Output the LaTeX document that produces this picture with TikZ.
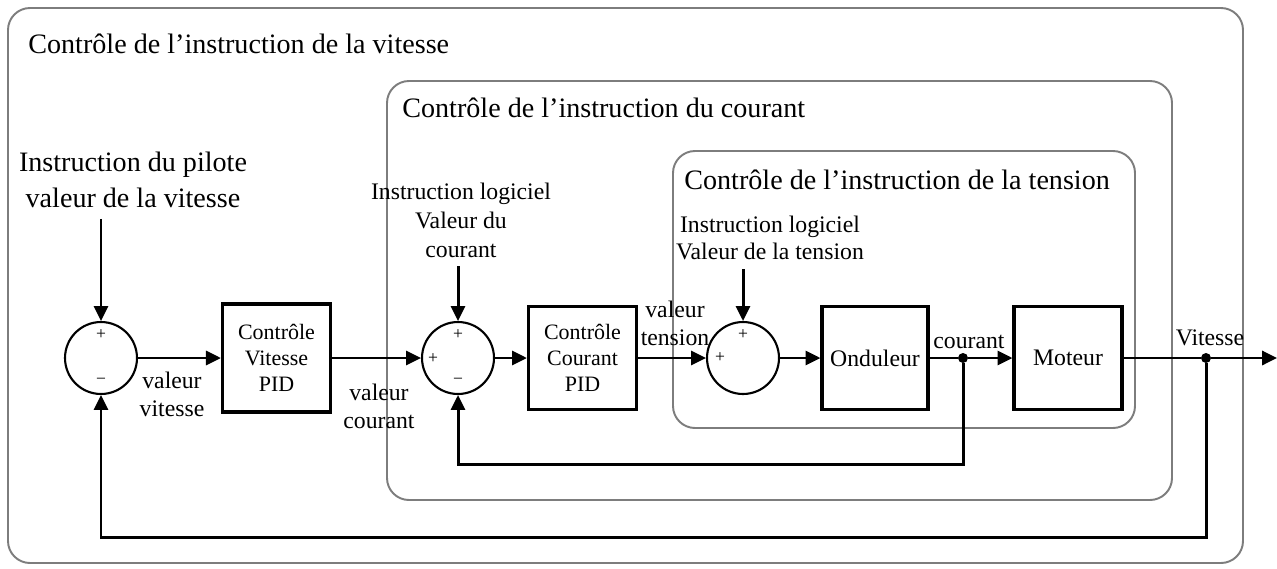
\documentclass[tikz,border=0pt]{standalone}
\usepackage{fontspec}
\setmainfont{Liberation Serif}
\usetikzlibrary{arrows.meta, positioning, calc}
\definecolor{cadre}{RGB}{125,125,125}

\begin{document}
\begin{tikzpicture}[x=0.02cm, y=-0.02cm,
  fl/.style={line width=1.7pt, -{Triangle[length=8.5pt,width=8pt]}},
  trait/.style={line width=1.7pt},
  somme/.style={draw, circle, line width=1.2pt, minimum size=1.44cm, inner sep=0pt},
  bloc/.style={draw, line width=1.8pt, minimum width=2.16cm, minimum height=2.06cm,
    align=center, inner sep=0pt, font=\fontsize{12.5}{15}\selectfont},
  groupe/.style={draw=cadre, line width=1.1pt, rounded corners=0.44cm},
  signe/.style={font=\fontsize{10}{10}\selectfont, inner sep=0pt},
  jonction/.style={circle, fill=black, minimum size=0.2cm, inner sep=0pt},
  titre/.style={anchor=west, font=\fontsize{16}{19}\selectfont, inner sep=0pt},
  lbl/.style={align=center, font=\fontsize{13.5}{16}\selectfont, inner sep=0pt}]
  \useasboundingbox (0,0) rectangle (1277,568);

  % cadres des boucles
  \draw[groupe] (8,8) rectangle (1243,563);
  \draw[groupe] (387,81) rectangle (1172,500);
  \draw[groupe] (673,151) rectangle (1135,428);
  \node[titre] (tvit) at (28,44) {Contrôle de l’instruction de la vitesse};
  \node[titre] (tcou) at (402,108) {Contrôle de l’instruction du courant};
  \node[titre] (tten) at (684,180) {Contrôle de l’instruction de la tension};

  % chaine directe
  \node[somme] (s1) at (101,358) {};
  \node[bloc, minimum height=2.16cm] (pidv) at (276.5,358) {Contrôle\\Vitesse\\PID};
  \node[somme] (s2) at (458,358) {};
  \node[bloc] (pidc) at (582.5,358) {Contrôle\\Courant\\PID};
  \node[somme] (s3) at (743,358) {};
  \node[bloc, minimum width=2.12cm, font=\fontsize{13.5}{16}\selectfont] (ond) at (875,358) {Onduleur};
  \node[jonction] (jc) at (963,358) {};
  \node[bloc, font=\fontsize{13.5}{16}\selectfont] (mot) at (1068,358) {Moteur};
  \node[jonction] (jv) at (1206,358) {};
  \coordinate (sortie) at (1277,358);

  % signes
  \node[signe] (s1p) at ($(s1)+(0,-23)$) {+};
  \node[signe] (s1m) at ($(s1)+(0,23)$) {−};
  \node[signe] (s2p) at ($(s2)+(0,-23)$) {+};
  \node[signe] (s2g) at ($(s2)+(-25,1)$) {+};
  \node[signe] (s2m) at ($(s2)+(0,23)$) {−};
  \node[signe] (s3p) at ($(s3)+(0,-23)$) {+};
  \node[signe] (s3g) at ($(s3)+(-23,0)$) {+};

  % consignes
  \node[lbl, font=\fontsize{16}{20.5}\selectfont, inner ysep=6pt] (pilote) at (133,180)
    {Instruction du pilote\\valeur de la vitesse};
  \node[lbl, font=\fontsize{13.5}{16.5}\selectfont, inner ysep=5pt] (logc) at (461,220)
    {Instruction logiciel\\Valeur du\\courant};
  \node[lbl, font=\fontsize{13.5}{15.5}\selectfont, inner ysep=5pt] (logt) at (770,238)
    {Instruction logiciel\\Valeur de la tension};

  % etiquettes des signaux
  \node[lbl] (valvit) at (172,394) {valeur\\vitesse};
  \node[lbl] (valcou) at (379,406) {valeur\\courant};
  \node[lbl] (valten) at (675,323) {valeur\\tension};
  \node[lbl] (lcou) at (969,342) {courant};
  \node[lbl] (lvit) at (1210,338) {Vitesse};

  % liaisons
  \draw[fl] (s1 |- pilote.south) -- (s1.north);
  \draw[fl] (s2 |- logc.south) -- (s2.north);
  \draw[fl] (s3 |- logt.south) -- (s3.north);
  \draw[fl] (s1) -- (pidv);
  \draw[fl] (pidv) -- (s2);
  \draw[fl] (s2) -- (pidc);
  \draw[fl] (pidc) -- (s3);
  \draw[fl] (s3) -- (ond);
  \draw[trait] (ond) -- (jc);
  \draw[fl] (jc) -- (mot);
  \draw[trait] (mot) -- (jv);
  \draw[fl] (jv) -- (sortie);
  \draw[fl] (jc) -- ++(0,106) -| (s2.south);
  \draw[fl] (jv) -- ++(0,179) -| (s1.south);
\end{tikzpicture}
\end{document}
